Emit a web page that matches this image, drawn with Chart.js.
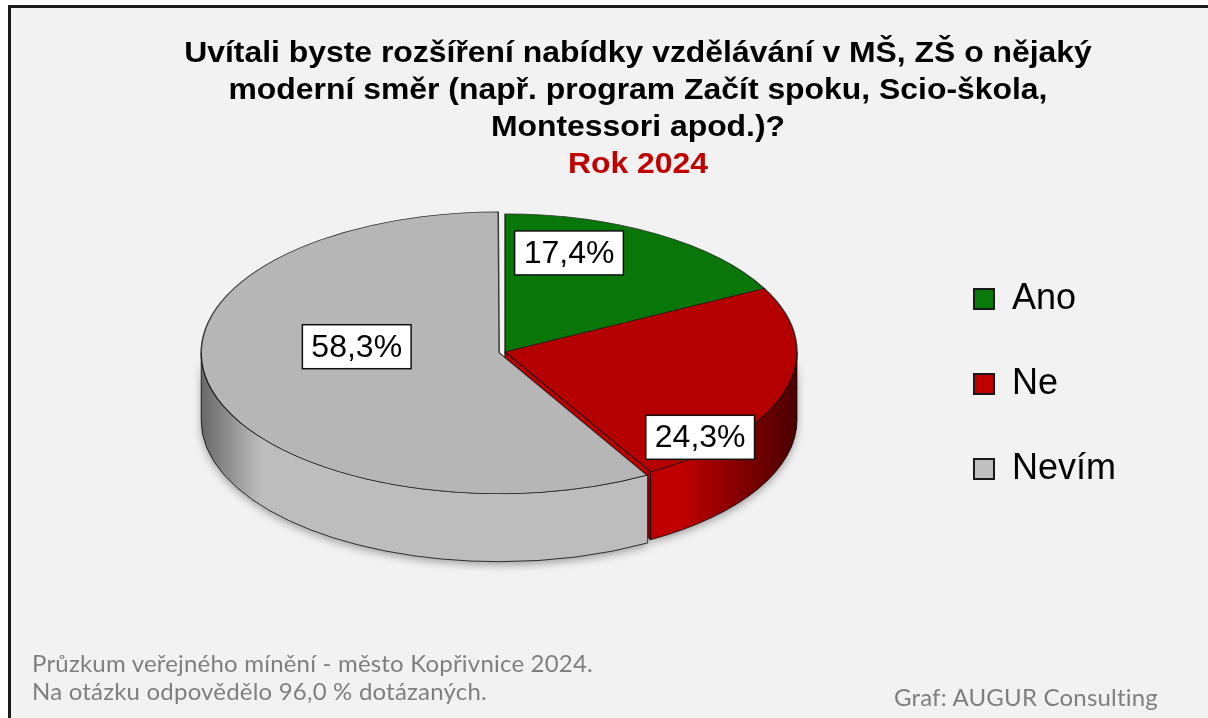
<!DOCTYPE html>
<html lang="cs">
<head>
<meta charset="utf-8">
<script src="https://cdn.jsdelivr.net/npm/chart.js@4.4.1/dist/chart.umd.min.js"></script>
<style>
  html, body { margin: 0; padding: 0; background: #fff; overflow: hidden; }
  #wrap { position: relative; width: 1208px; height: 718px; overflow: hidden; }
  #frame { position: absolute; left: 8px; top: 5px; width: 1400px; height: 900px;
           background: #f2f2f2; border-top: 3px solid #1a1a1a; border-left: 3px solid #1a1a1a; }
  #graf { position: absolute; left: 0; top: 0; }
  .titulek { position: absolute; left: 0; top: 34px; width: 1276px; text-align: center;
             font: bold 29px "Liberation Sans", Arial, sans-serif; line-height: 37px; color: #000;
             transform: scaleX(1.1); transform-origin: 638px 0; }
  .titulek .rok { color: #c00000; }
  .pozn { position: absolute; font: 24px Lato, "Open Sans", sans-serif; line-height: 28px;
          letter-spacing: 0.2px; color: #7f7f7f; white-space: nowrap; }
</style>
</head>
<body>
<div id="wrap">
  <div id="frame"></div>
  <canvas id="graf" width="1208" height="718"></canvas>
  <div class="titulek">
    Uvítali byste rozšíření nabídky vzdělávání v MŠ, ZŠ o nějaký<br>
    moderní směr (např. program Začít spoku, Scio-škola,<br>
    Montessori apod.)?<br>
    <span class="rok">Rok 2024</span>
  </div>
  <div class="pozn" style="left:32px; top:649px;">
    Průzkum veřejného mínění - město Kopřivnice 2024.<br>
    Na otázku odpovědělo 96,0 % dotázaných.
  </div>
  <div class="pozn" style="right:50px; top:683px;">Graf: AUGUR Consulting</div>
</div>
<script>
// data
const odpovedi = ['Ano', 'Ne', 'Nevím'];
const podily = [17.4, 24.3, 58.3];

// barvy
const barvyVrch = [['#077007', '#087608'], ['#ad0000', '#b40000'], ['#a5a5a5', '#b6b6b6']];
const barvyBok = [['#044004', '#0a7a0a'], ['#4a0000', '#c00000'], ['#686868', '#bdbdbd']];
const barvyLegenda = ['#0a7a0a', '#c00000', '#c0c0c0'];

const SPLOST = 0.473;   // pomer os elipsy
const HLOUBKA = 68;     // vyska boku
const POSUN = -32;      // posun stredu kolace nahoru
const popisky = [{ f: 0.75, da: -0.25 }, { f: 0.91, da: 0.46 }, { f: 0.48, da: 0.35 }];

// stejne jako ArcElement.draw: posun o offset/4 a zvetseni polomeru u vysece > 180°
function geometrie(a) {
    const o = (a.options.offset || 0) / 4;
    const mid = (a.startAngle + a.endAngle) / 2;
    const fix = 1 - Math.sin(Math.min(Math.PI, a.circumference || 0));
    return {
        cx: a.x + Math.cos(mid) * o,
        cy: a.y + POSUN + Math.sin(mid) * o * SPLOST,
        r: a.outerRadius + o * fix, s: a.startAngle, e: a.endAngle, mid: mid
    };
}

const pie3d = {
    id: 'pie3d',
    beforeDatasetsDraw(chart) {
        const ctx = chart.ctx;
        const arcs = chart.getDatasetMeta(0).data;
        const geo = arcs.map(geometrie);
        const ry = (g) => g.r * SPLOST;

        // rezne steny
        ctx.save();
        geo.forEach((g, i) => {
            [[g.e, Math.cos(g.e)], [g.s, -Math.cos(g.s)]].forEach(([t, vis]) => {
                if (vis <= 0.01) return;
                const px = g.cx + g.r * Math.cos(t), py = g.cy + ry(g) * Math.sin(t);
                ctx.beginPath();
                ctx.moveTo(g.cx, g.cy);
                ctx.lineTo(px, py);
                ctx.lineTo(px, py + HLOUBKA);
                ctx.lineTo(g.cx, g.cy + HLOUBKA);
                ctx.closePath();
                ctx.fillStyle = barvyBok[i][1];
                ctx.fill();
                ctx.strokeStyle = 'rgba(0,0,0,0.7)';
                ctx.lineWidth = 1;
                ctx.stroke();
            });
        });

        // vnejsi boky
        geo.forEach((g, i) => {
            for (let n = -1; n <= 1; n++) {
                const a = Math.max(g.s, 2 * Math.PI * n);
                const b = Math.min(g.e, 2 * Math.PI * n + Math.PI);
                if (a >= b) continue;
                const grad = ctx.createLinearGradient(g.cx - g.r, 0, g.cx + g.r, 0);
                const [tmava, zaklad] = barvyBok[i];
                grad.addColorStop(0, tmava);
                grad.addColorStop(0.1, zaklad);
                grad.addColorStop(0.8, zaklad);
                grad.addColorStop(1, tmava);
                ctx.beginPath();
                ctx.ellipse(g.cx, g.cy, g.r, ry(g), 0, a, b, false);
                ctx.ellipse(g.cx, g.cy + HLOUBKA, g.r, ry(g), 0, b, a, true);
                ctx.closePath();
                ctx.save();
                ctx.shadowColor = 'rgba(0,0,0,0.35)';
                ctx.shadowBlur = 8;
                ctx.shadowOffsetY = 3;
                ctx.fillStyle = grad;
                ctx.fill();
                ctx.restore();
                ctx.strokeStyle = 'rgba(0,0,0,0.75)';
                ctx.lineWidth = 1;
                ctx.stroke();
            }
        });
        ctx.restore();

        // vrchni plocha - zplosteni kruhu do elipsy
        const cyA = arcs[0].y;
        ctx.save();
        ctx.translate(0, cyA + POSUN);
        ctx.scale(1, SPLOST);
        ctx.translate(0, -cyA);
    },
    afterDatasetsDraw(chart) {
        const ctx = chart.ctx;
        ctx.restore();
        const arcs = chart.getDatasetMeta(0).data;
        ctx.save();
        ctx.font = '32px "Liberation Sans", Arial, sans-serif';
        ctx.textAlign = 'center';
        ctx.textBaseline = 'middle';
        arcs.forEach((a, i) => {
            const g = geometrie(a);
            const ang = g.mid + popisky[i].da;
            const x = g.cx + popisky[i].f * g.r * Math.cos(ang);
            const y = g.cy + popisky[i].f * g.r * SPLOST * Math.sin(ang);
            const txt = podily[i].toFixed(1).replace('.', ',') + '%';
            const w = ctx.measureText(txt).width + 18, h = 44;
            ctx.fillStyle = '#fff';
            ctx.fillRect(x - w / 2, y - h / 2, w, h);
            ctx.strokeStyle = '#111';
            ctx.lineWidth = 1.5;
            ctx.strokeRect(x - w / 2, y - h / 2, w, h);
            ctx.fillStyle = '#000';
            ctx.fillText(txt, x, y + 1);
        });
        ctx.restore();
    }
};

const ctx = document.getElementById('graf').getContext('2d');
new Chart(ctx, {
    type: 'pie',
    data: {
        labels: odpovedi,
        datasets: [{
            data: podily,
            backgroundColor: (c) => {
                const a = c.element;
                const i = c.dataIndex;
                if (!a || a.y === undefined) return barvyVrch[i][1];
                const g = c.chart.ctx.createLinearGradient(0, a.y - a.outerRadius, 0, a.y + a.outerRadius);
                g.addColorStop(0, barvyVrch[i][0]);
                g.addColorStop(1, barvyVrch[i][1]);
                return g;
            },
            borderColor: 'rgba(20,20,20,0.8)',
            borderWidth: 1.5,
            offset: [0, 0, 24],
            clip: false
        }]
    },
    options: {
        responsive: false,
        animation: false,
        radius: 292,
        layout: { padding: { left: 85, right: 82, top: 204, bottom: 154 } },
        plugins: {
            tooltip: { enabled: false },
            title: { display: false },
            legend: {
                position: 'right',
                labels: {
                    boxWidth: 20,
                    boxHeight: 20,
                    padding: 49,
                    color: '#000',
                    font: { size: 36, family: '"Liberation Sans", Arial, sans-serif' },
                    generateLabels: () => odpovedi.map((t, i) => ({
                        text: t,
                        fillStyle: barvyLegenda[i],
                        strokeStyle: '#1a1a1a',
                        lineWidth: 2,
                        hidden: false,
                        index: i
                    }))
                }
            }
        }
    },
    plugins: [pie3d]
});
</script>
</body>
</html>
